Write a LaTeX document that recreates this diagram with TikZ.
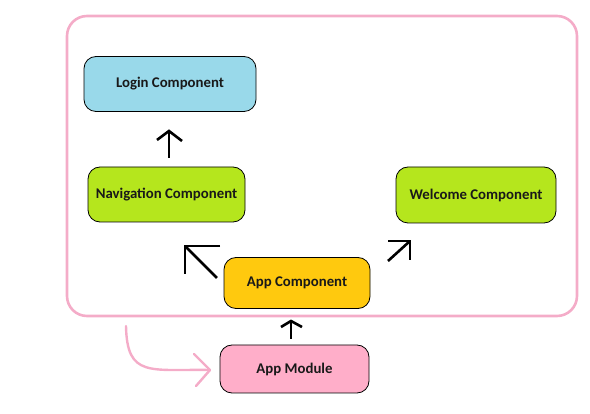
\documentclass[tikz,border=0pt]{standalone}
\usepackage{fontspec}
\setmainfont{Carlito}
\usetikzlibrary{arrows.meta}
\definecolor{loginblue}{RGB}{153,217,234}
\definecolor{compgreen}{RGB}{181,230,29}
\definecolor{apporange}{RGB}{255,201,14}
\definecolor{modpink}{RGB}{255,174,201}
\definecolor{framepink}{RGB}{244,172,200}
\tikzset{
  compbox/.style={draw=black, line width=0.8pt, rounded corners=12pt, inner sep=0pt,
    font=\fontsize{14.8}{16}\selectfont\bfseries, text=black!90},
  blackarrow/.style={line width=2.6pt, black, line cap=butt, line join=miter},
  pinkline/.style={line width=2.4pt, framepink, line cap=round, line join=round}
}
\begin{document}
\begin{tikzpicture}[x=1pt,y=-1pt]
\useasboundingbox (0,0) rectangle (590,414);
% frame
\draw[framepink, line width=2.6pt, rounded corners=20pt] (67,16) rectangle (577,316);
% boxes
\node[compbox, fill=loginblue, minimum width=172pt, minimum height=55pt] (login) at (170,84) {Login Component};
\node[compbox, fill=compgreen, minimum width=157pt, minimum height=55pt] (nav) at (166.5,194.5) {Navigation Component};
\node[compbox, fill=compgreen, minimum width=160pt, minimum height=56pt] (welcome) at (476,195) {Welcome Component};
\node[compbox, fill=apporange, minimum width=146pt, minimum height=51pt] (app) at (297,283) {App Component};
\node[compbox, fill=modpink, minimum width=149pt, minimum height=48pt] (module) at (294.5,369) {App Module};
% arrow nav -> login
\coordinate (nl1) at (169,158);
\coordinate (nl2) at (169,131);
\draw[blackarrow] (nl1) -- (nl2);
\draw[blackarrow] (157,140) -- (nl2) -- (182,141);
% arrow app -> nav
\coordinate (an1) at (217,278);
\coordinate (an2) at (185,246);
\draw[blackarrow] (an1) -- (an2);
\draw[blackarrow] (220,246) -- (an2) -- (185,274);
% arrow app -> welcome
\coordinate (aw1) at (388,261);
\coordinate (aw2) at (410,241);
\draw[blackarrow] (aw1) -- (aw2);
\draw[blackarrow] (388,241) -- (aw2) -- (410,260);
% arrow module -> app
\coordinate (ma1) at (291,339);
\coordinate (ma2) at (291,321);
\draw[blackarrow] (ma1) -- (ma2);
\draw[blackarrow] (281,327) -- (ma2) -- (302,327);
% pink arrow
\coordinate (pk1) at (126,326);
\coordinate (pk2) at (210,370);
\draw[pinkline] (pk1) .. controls (127,378) and (150,369) .. (pk2);
\draw[pinkline] (194,354) -- (pk2) -- (196,386);
\end{tikzpicture}
\end{document}
